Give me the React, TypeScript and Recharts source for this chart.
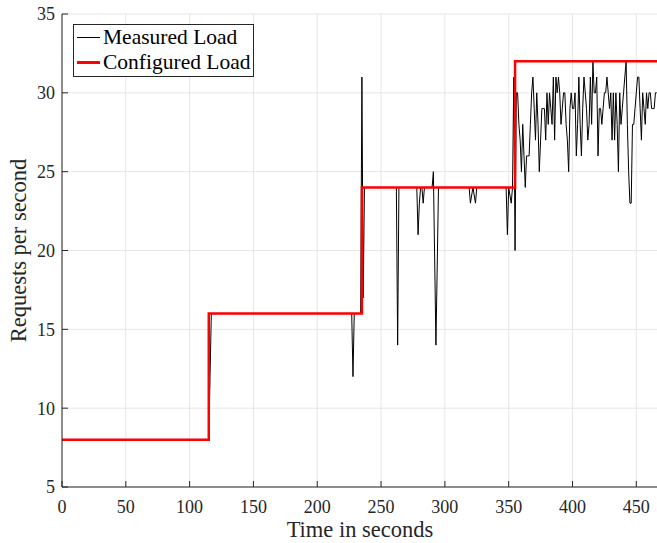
import React from 'react';
import { LineChart, Line, XAxis, YAxis, CartesianGrid } from 'recharts';

// measured load: sparse points where it is flat, then 1 s samples in the noisy part
const measuredTimes = [
  0, 115, 116, 117, 227, 228, 229, 234, 235, 236, 237, 262, 263, 264,
  278, 279, 280, 281, 282, 283, 284, 290, 291, 293, 295, 319, 320, 322,
  324, 325, 348, 349, 350, 352, 353, 354, 355,
];
const measuredValues = [
  8, 8, 12, 16, 16, 12, 16, 16, 31, 17, 24, 24, 14, 24,
  24, 21, 23, 24, 24, 23, 24, 24, 25, 14, 24, 24, 23, 24,
  23, 24, 24, 21, 24, 23, 24, 31, 20,
];
const noisyStart = 356;
const noisyValues = [
  30, 30, 28, 27, 25, 28, 26, 24, 26, 26, 26, 28, 30, 31, 29, 27, 30, 28, 25, 27,
  29, 29, 29, 27, 30, 28, 30, 29, 28, 31, 27, 31, 30, 31, 30, 28, 29, 30, 30, 28,
  27, 25, 29, 30, 29, 29, 30, 26, 28, 31, 28, 26, 29, 31, 30, 29, 27, 28, 31, 28,
  32, 30, 30, 31, 26, 29, 29, 28, 29, 30, 30, 31, 30, 29, 30, 27, 30, 27, 30, 28,
  25, 30, 28, 29, 30, 31, 32, 28, 25, 23, 23, 28, 28, 29, 30, 31, 31, 29, 27, 30,
  29, 28, 30, 29, 30, 30, 29, 29, 29, 30, 30,
];

// configured load (step after)
const configTimes = [0, 115, 235, 355, 467];
const configValues = [8, 16, 24, 32, 32];

const xTicks = [0, 50, 100, 150, 200, 250, 300, 350, 400, 450];
const yTicks = [5, 10, 15, 20, 25, 30, 35];

const measuredData = [
  ...measuredTimes.map((t, i) => ({ t, v: measuredValues[i] })),
  ...noisyValues.map((v, i) => ({ t: noisyStart + i, v })),
];
const configData = configTimes.map((t, i) => ({ t, v: configValues[i] }));

const FONT = '"Liberation Serif", "Times New Roman", serif';
const AXIS = '#262626';

export default function App() {
  const tickStyle = { fontSize: 18, fill: AXIS, fontFamily: FONT };
  const labelStyle = { fontSize: 22.5, fill: AXIS, fontFamily: FONT };
  return (
    <div style={{ position: 'absolute', left: 0, top: 0, width: 657, height: 543, overflow: 'hidden', background: '#fff' }}>
      <LineChart width={700} height={543} margin={{ top: 14, right: 42, left: 0, bottom: 0 }}>
        <CartesianGrid stroke="#e6e6e6" strokeWidth={1} />
        <XAxis
          dataKey="t"
          type="number"
          domain={[0, 467]}
          ticks={xTicks}
          allowDataOverflow
          height={56}
          tickSize={-6}
          tickMargin={19}
          stroke={AXIS}
          tick={tickStyle}
          label={{ value: 'Time in seconds', position: 'insideBottom', offset: 6, style: labelStyle }}
        />
        <XAxis
          xAxisId="top"
          orientation="top"
          dataKey="t"
          type="number"
          domain={[0, 467]}
          ticks={xTicks}
          allowDataOverflow
          height={0}
          tickSize={-6}
          stroke={AXIS}
          tick={() => <g />}
        />
        <YAxis
          type="number"
          domain={[5, 35]}
          ticks={yTicks}
          allowDataOverflow
          width={62}
          tickSize={-6}
          tickMargin={13}
          stroke={AXIS}
          tick={tickStyle}
          label={{ value: 'Requests per second', angle: -90, position: 'insideLeft', offset: 18, style: { ...labelStyle, textAnchor: 'middle' } }}
        />
        <YAxis
          yAxisId="right"
          orientation="right"
          type="number"
          domain={[5, 35]}
          ticks={yTicks}
          allowDataOverflow
          width={0}
          tickSize={-6}
          stroke={AXIS}
          tick={() => <g />}
        />
        <Line
          data={measuredData}
          dataKey="v"
          type="linear"
          stroke="#000"
          strokeWidth={1}
          dot={false}
          isAnimationActive={false}
        />
        <Line
          data={configData}
          dataKey="v"
          type="stepAfter"
          stroke="#ff0000"
          strokeWidth={2.5}
          dot={false}
          isAnimationActive={false}
        />
      </LineChart>
      <div
        style={{
          position: 'absolute', left: 73, top: 24, width: 179, height: 51,
          border: `1px solid ${AXIS}`, background: '#fff', fontFamily: FONT, fontSize: 21.5, color: '#000',
        }}
      >
        {[
          { name: 'Measured Load', color: '#000', w: 1 },
          { name: 'Configured Load', color: '#ff0000', w: 2.5 },
        ].map((s) => (
          <div key={s.name} style={{ display: 'flex', alignItems: 'center', height: 25, paddingLeft: 3, whiteSpace: 'nowrap' }}>
            <div style={{ width: 23, height: s.w, background: s.color, marginRight: 3 }} />
            <span style={{ lineHeight: '25px' }}>{s.name}</span>
          </div>
        ))}
      </div>
    </div>
  );
}
